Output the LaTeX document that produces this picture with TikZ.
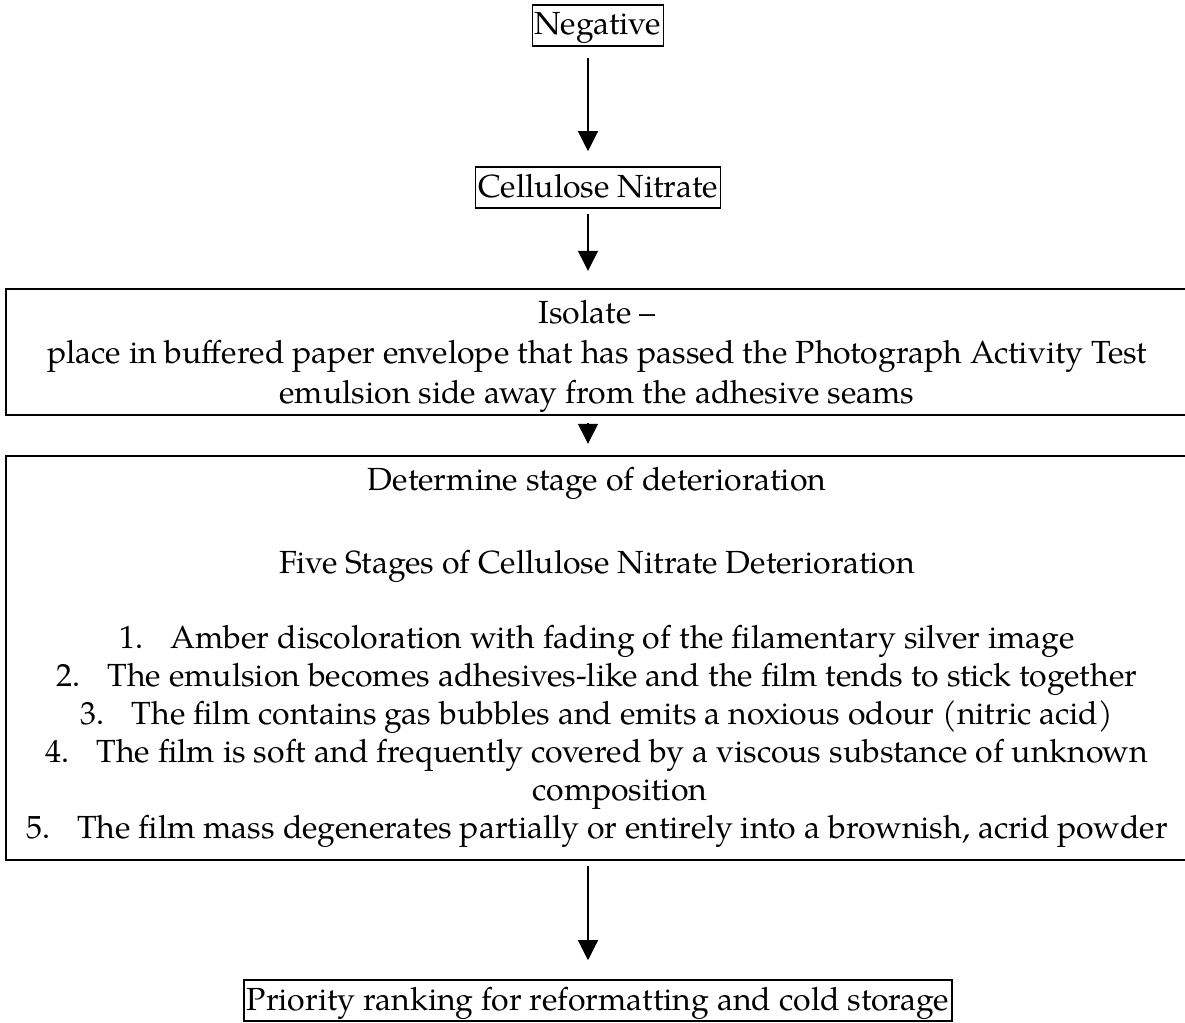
\documentclass[tikz,border=0pt]{standalone}
\usepackage{fontspec}
\setmainfont{texgyrepagella-regular.otf}
\usetikzlibrary{arrows.meta}
\tikzset{
  txt/.style={anchor=base, inner sep=0pt, font=\fontsize{32pt}{40pt}\selectfont},
  smallbox/.style={draw, line width=1.6pt, anchor=base, text height=30pt, text depth=11pt,
    inner xsep=2.5pt, inner ysep=0pt, font=\fontsize{32pt}{40pt}\selectfont},
  bigbox/.style={draw, line width=2.4pt, inner sep=0pt},
  arr/.style={line width=1.3pt, -{Triangle[length=20pt,width=20pt]}}
}
\begin{document}
\begin{tikzpicture}[x=1pt,y=-1pt]
\fill[white] (0,0) rectangle (1185,1022);
\useasboundingbox (0,0) rectangle (1185,1022);
\coordinate (axis) at (588,0);
% boxes
\node[smallbox] (neg) at (598,35) {Negative};
\node[smallbox] (cel) at (598,197) {Cellulose Nitrate};
\node[bigbox, minimum width=1182pt, minimum height=126pt] (iso) at (597,352) {};
\node[bigbox, minimum width=1182pt, minimum height=404pt] (det) at (597,658) {};
\node[smallbox] (pri) at (598,1010) {Priority ranking for reformatting and cold storage};
% isolate text
\node[txt] (iso1) at (597,323) {Isolate –};
\node[txt] (iso2) at (597,363) {place in buffered paper envelope that has passed the Photograph Activity Test};
\node[txt] (iso3) at (597,403) {emulsion side away from the adhesive seams};
% determine text
\node[txt] (det1) at (597,490) {Determine stage of deterioration};
\node[txt] (det2) at (597,573) {Five Stages of Cellulose Nitrate Deterioration};
\node[txt] (it1) at (597,648) {\makebox[51pt][l]{1.}Amber discoloration with fading of the filamentary silver image};
\node[txt] (it2) at (597,686) {\makebox[51pt][l]{2.}The emulsion becomes adhesives-like and the film tends to stick together};
\node[txt] (it3) at (597,724) {\makebox[51pt][l]{3.}The film contains gas bubbles and emits a noxious odour (nitric acid)};
\node[txt] (it4) at (597,762) {\makebox[51pt][l]{4.}The film is soft and frequently covered by a viscous substance of unknown};
\node[txt] (it4b) at (620,800) {composition};
\node[txt] (it5) at (597,838) {\makebox[51pt][l]{5.}The film mass degenerates partially or entirely into a brownish, acrid powder};
% arrows
\draw[arr, shorten <=11pt, shorten >=15pt] (neg.south -| axis) -- (cel.north -| axis);
\draw[arr, shorten <=5pt, shorten >=17pt] (cel.south -| axis) -- (iso.north -| axis);
\draw[arr, shorten <=7pt, shorten >=11pt] (iso.south -| axis) -- (det.north -| axis);
\draw[arr, shorten <=5pt, shorten >=19pt] (det.south -| axis) -- (pri.north -| axis);
\end{tikzpicture}
\end{document}
